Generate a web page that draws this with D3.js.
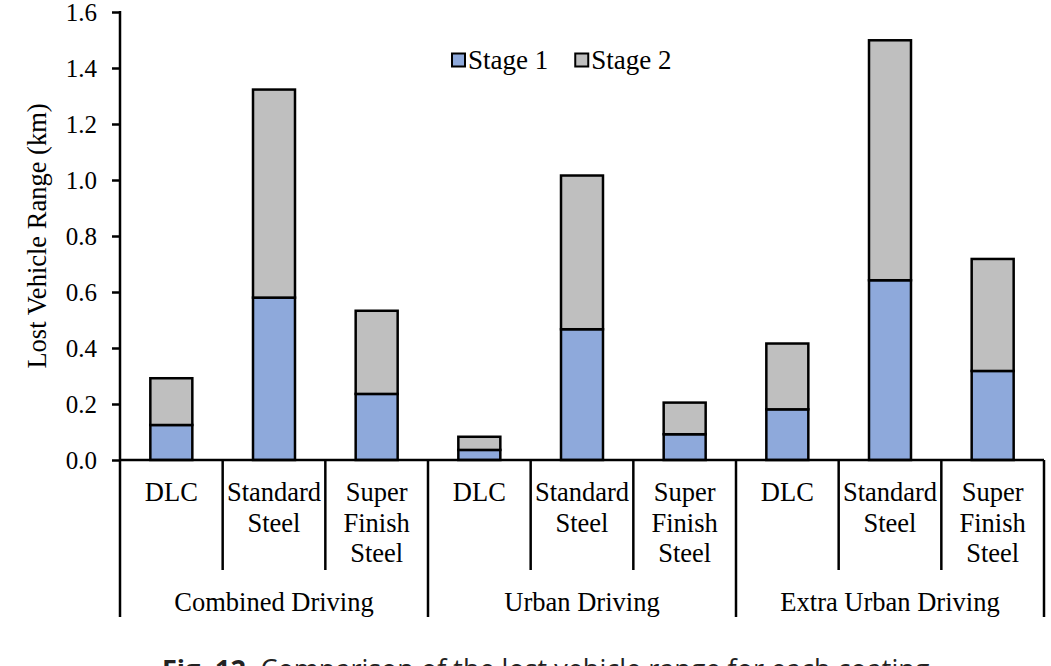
<!DOCTYPE html>
<html>
<head>
<meta charset="utf-8">
<script src="https://cdn.jsdelivr.net/npm/d3@7"></script>
<style>
  html, body { margin: 0; padding: 0; background: #fff; overflow: hidden; }
  svg { display: block; }
</style>
</head>
<body>
<script>
// ---- data ----
const groups = ["Combined Driving", "Urban Driving", "Extra Urban Driving"];
const coatings = ["DLC", "Standard Steel", "Super Finish Steel"];
const coatingLines = [["DLC"], ["Standard", "Steel"], ["Super", "Finish", "Steel"]];
const seriesNames = ["Stage 1", "Stage 2"];
const seriesColors = ["#8EA9DB", "#BFBFBF"];
// values in order: group x coating
const stage1 = [0.125, 0.580, 0.236, 0.036, 0.467, 0.092, 0.181, 0.642, 0.318];
const stage2 = [0.167, 0.743, 0.297, 0.047, 0.549, 0.113, 0.235, 0.857, 0.400];
const yTicks = [0.0, 0.2, 0.4, 0.6, 0.8, 1.0, 1.2, 1.4, 1.6];
const yTitle = "Lost Vehicle Range (km)";
const captionLead = "Fig. 12.";
const captionBody = " Comparison of the lost vehicle range for each coating.";

(function () {
const SERIF = "Liberation Serif";
// ---- layout ----
const W = 1051, H = 666;
const mLeft = 120, mRight = 1044, mTop = 12, mBase = 460;

const rows = [];
groups.forEach((g, gi) => coatings.forEach((c, ci) => {
  const i = gi * coatings.length + ci;
  rows.push({ id: g + "|" + c, group: g, coating: c, ci, "Stage 1": stage1[i], "Stage 2": stage2[i] });
}));

const svg = d3.select("body").append("svg").attr("width", W).attr("height", H)
  .attr("font-family", SERIF);

const x = d3.scaleBand().domain(rows.map(d => d.id)).range([mLeft, mRight])
  .paddingInner(0.591).paddingOuter(0.2955);
const xg = d3.scaleBand().domain(groups).range([mLeft, mRight]);
const y = d3.scaleLinear().domain([0, 1.6]).range([mBase, mTop]);

const stacked = d3.stack().keys(seriesNames)(rows);

// bars
svg.append("g").selectAll("g").data(stacked).join("g")
  .attr("fill", (d, i) => seriesColors[i])
  .selectAll("rect").data(d => d).join("rect")
  .attr("x", d => x(d.data.id))
  .attr("width", x.bandwidth())
  .attr("y", d => y(d[1]))
  .attr("height", d => y(d[0]) - y(d[1]))
  .attr("stroke", "#000").attr("stroke-width", 2.5);

// y axis
const yAxis = d3.axisLeft(y).tickValues(yTicks).tickFormat(d3.format(".1f"))
  .tickSize(8).tickPadding(15);
const ga = svg.append("g").attr("transform", `translate(${mLeft},0)`).call(yAxis)
  .attr("font-family", SERIF).attr("font-size", 25);
ga.select(".domain").remove();
ga.selectAll(".tick line").attr("stroke", "#000").attr("stroke-width", 2.5);
ga.selectAll(".tick text").attr("font-family", SERIF).attr("font-size", 25).attr("fill", "#000");

// axis line (vertical extends below into category area)
svg.append("line").attr("x1", mLeft).attr("x2", mLeft).attr("y1", y(1.6) - 1).attr("y2", 617)
  .attr("stroke", "#000").attr("stroke-width", 2.5);
// baseline
svg.append("line").attr("x1", mLeft).attr("x2", mRight).attr("y1", y(0)).attr("y2", y(0))
  .attr("stroke", "#000").attr("stroke-width", 2.5);

// category separators
const step = x.step();
rows.forEach((d, i) => {
  const bx = mLeft + step * (i + 1);
  const isGroupEnd = (d.ci === coatings.length - 1);
  svg.append("line").attr("x1", bx).attr("x2", bx).attr("y1", y(0)).attr("y2", isGroupEnd ? 617 : 570)
    .attr("stroke", "#000").attr("stroke-width", 2.5);
});

// category labels
rows.forEach(d => {
  const cx = x(d.id) + x.bandwidth() / 2;
  coatingLines[d.ci].forEach((ln, li) => {
    svg.append("text").attr("x", cx).attr("y", 501 + li * 30.5)
      .attr("text-anchor", "middle").attr("font-family", SERIF).attr("font-size", 26.5)
      .attr("fill", "#000").text(ln);
  });
});

// group labels
groups.forEach(g => {
  svg.append("text").attr("x", xg(g) + xg.bandwidth() / 2).attr("y", 611)
    .attr("text-anchor", "middle").attr("font-family", SERIF).attr("font-size", 26.5)
    .attr("fill", "#000").text(g);
});

// y title
svg.append("text").attr("transform", `translate(46,${(mTop + mBase) / 2}) rotate(-90)`)
  .attr("text-anchor", "middle").attr("font-family", SERIF).attr("font-size", 26.5)
  .attr("fill", "#000").text(yTitle);

// legend
const leg = svg.append("g").attr("transform", "translate(452,60)");
let lx = 0;
seriesNames.forEach((s, i) => {
  const gI = leg.append("g").attr("transform", `translate(${lx},0)`);
  gI.append("rect").attr("x", 0).attr("y", -6.5).attr("width", 13).attr("height", 13)
    .attr("fill", seriesColors[i]).attr("stroke", "#000").attr("stroke-width", 2);
  const t = gI.append("text").attr("x", 16).attr("y", 9).attr("font-family", SERIF)
    .attr("font-size", 27).attr("fill", "#000").text(s);
  lx += 16 + t.node().getComputedTextLength() + 27;
});

// caption (only its top edge shows at the bottom of the window, as in the reference)
const cap = svg.append("text").attr("x", 162).attr("y", 679).attr("font-size", 27)
  .attr("font-family", "Open Sans").attr("fill", "#222");
cap.append("tspan").attr("font-weight", "bold").text(captionLead);
cap.append("tspan").text(captionBody);
})();
</script>
</body>
</html>
